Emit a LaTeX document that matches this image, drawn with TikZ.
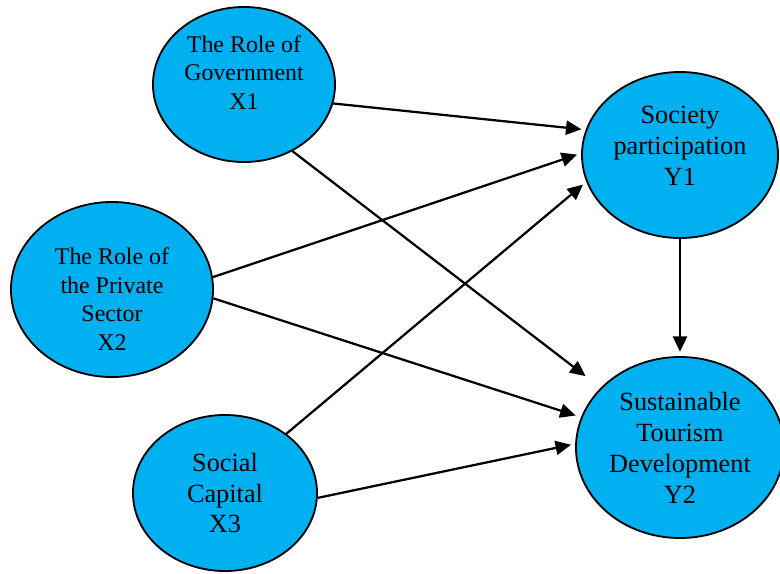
\documentclass[tikz,border=0pt]{standalone}
\usepackage{fontspec}
\setmainfont{Liberation Serif}
\usetikzlibrary{shapes.geometric,arrows.meta}
\definecolor{latentblue}{HTML}{00B0F0}
\tikzset{
  latent/.style={ellipse, draw, line width=1.3pt, fill=latentblue, inner sep=0pt},
  txtsmall/.style={align=center, inner sep=0pt, font=\fontsize{17}{20.5}\selectfont},
  txtlarge/.style={align=center, inner sep=0pt, font=\fontsize{18.7}{22}\selectfont},
  effect/.style={-{Triangle[length=11pt,width=10pt]}, line width=1.6pt, shorten >=3pt},
}

\begin{document}
\begin{tikzpicture}[x=0.025cm, y=-0.025cm]
\useasboundingbox (0,0) rectangle (780,573);
\node[latent, minimum width=4.55cm, minimum height=3.875cm, label={[txtsmall, yshift=8.5pt]center:The Role of\\Government\\X1}] (x1) at (244,84.5) {};
\node[latent, minimum width=5.05cm, minimum height=4.375cm, label={[txtsmall, yshift=-6.8pt]center:The Role of\\the Private\\Sector\\X2}] (x2) at (112,289.5) {};
\node[latent, minimum width=4.6cm, minimum height=3.9cm, label={[txtlarge]center:Social\\Capital\\X3}] (x3) at (225,493) {};
\node[latent, minimum width=4.9cm, minimum height=4.15cm, label={[txtlarge, yshift=6.8pt]center:Society\\participation\\Y1}] (y1) at (680,155) {};
\node[latent, minimum width=5.2cm, minimum height=4.525cm, label={[txtlarge]center:Sustainable\\Tourism\\Development\\Y2}] (y2) at (680,447.5) {};
\draw[effect] (x1.348) -- (y1.165);
\draw[effect, shorten >=13.5pt] (x1.306) -- (y2.143);
\draw[effect] (x2.7) -- (y1.179);
\draw[effect, shorten >=4pt] (x2.355) -- (y2.163);
\draw[effect] (x3.44) -- (y1.196);
\draw[effect] (x3.357) -- (y2.178);
\draw[effect] (y1) -- (y2);
\end{tikzpicture}
\end{document}
